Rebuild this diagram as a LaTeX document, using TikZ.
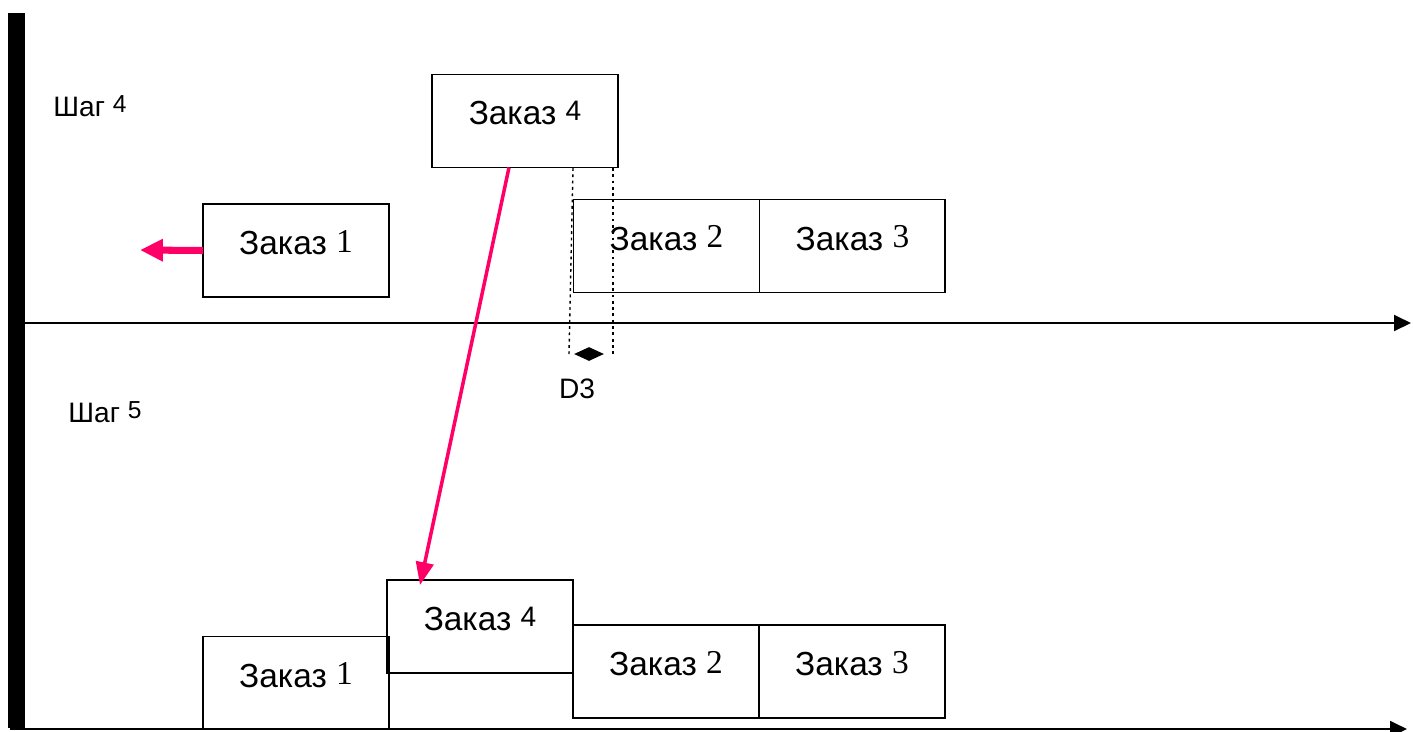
\documentclass[tikz,border=0pt]{standalone}
\usepackage{fontspec}
\setmainfont{Liberation Sans}
\newfontfamily\numfont{Liberation Serif}
\usetikzlibrary{arrows.meta, positioning, calc, shapes.geometric}
\definecolor{HotPink}{HTML}{FF0066}

% order numbers: serif digit, or a smaller raised sans digit
\newcommand{\nr}[1]{\raisebox{1.5pt}{\numfont #1}}
\newcommand{\upnum}[2]{\raisebox{2.5pt}{\fontsize{#1}{#1}\selectfont #2}}

\begin{document}
\begin{tikzpicture}[
    x=0.02cm, y=-0.02cm,
    order/.style={draw, line width=1.1pt, rectangle, minimum width=3.72cm,
                  minimum height=1.86cm, inner sep=0pt, outer sep=0pt,
                  text depth=9pt, font=\fontsize{19}{21}\selectfont},
    steptext/.style={inner sep=0pt, font=\fontsize{16}{18}\selectfont},
    axis/.style={line width=1.2pt, -{Triangle[length=9.6pt, width=9pt]}},
    move/.style={HotPink, line width=2pt, -{Triangle[length=13pt, width=10pt]}},
    gapline/.style={line width=0.8pt, dash pattern=on 1.6pt off 2pt}
]
    \clip (0,0) rectangle (1413,731);
    \useasboundingbox (0,0) rectangle (1413,731);

    % Time axes
    \fill (8,13) rectangle (25,728);
    \coordinate (ta) at (24,323);
    \coordinate (tb) at (1411,323);
    \coordinate (ba) at (10,729);
    \coordinate (bb) at (1407,729);
    \draw[axis] (ta) -- (tb);
    \draw[axis] (ba) -- (bb);

    % Step labels
    \node[steptext] at (90,106) (shag4) {Шаг \upnum{14}{4}};
    \node[steptext] at (105,412) (shag5) {Шаг \upnum{14}{5}};

    % Step 4
    \node[order] at (525,121) (ord4a) {Заказ \upnum{16}{4}};
    \node[order] at (296,250.5) (ord1a) {Заказ \nr{1}};
    \node[order] at (666.5,246) (ord2a) {Заказ \nr{2}};
    \node[order, right=0pt of ord2a] (ord3a) {Заказ \nr{3}};

    % Step 5
    \node[order] at (296,683) (ord1b) {Заказ \nr{1}};
    \node[order] at (480,626.5) (ord4b) {Заказ \upnum{16}{4}};
    \node[order] at (666,671.5) (ord2b) {Заказ \nr{2}};
    \node[order, right=0pt of ord2b] (ord3b) {Заказ \nr{3}};

    % Gap between order 4 and order 2
    \coordinate (ga) at (573,168);
    \coordinate (gb) at (569,354);
    \coordinate (gc) at (613,168);
    \coordinate (gd) at (613,354);
    \draw[gapline] (ga) -- (gb);
    \draw[gapline] (gc) -- (gd);
    \node[diamond, fill, inner sep=0pt, minimum width=0.6cm, minimum height=0.28cm]
        at (589,354) (gap) {};
    \node[steptext] at (577,389) (d3) {D3};

    % Moves
    \coordinate (out) at (140,250);
    \draw[HotPink, line width=4pt, -{Triangle[length=13pt, width=12pt]}] (ord1a.west) -- (out);
    \draw[move] ($(ord4a.south)+(-16,0)$) -- ($(ord4b.north west)+(33,5)$);
\end{tikzpicture}
\end{document}
